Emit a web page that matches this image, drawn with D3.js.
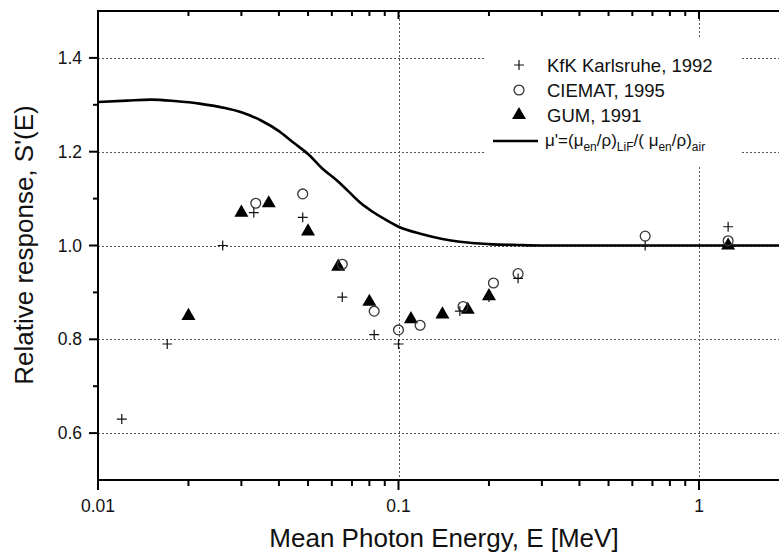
<!DOCTYPE html>
<html>
<head>
<meta charset="utf-8">
<script src="https://cdn.jsdelivr.net/npm/d3@7"></script>
<style>
  html, body { margin: 0; padding: 0; background: #fff; }
  svg { display: block; font-family: Arial, "Liberation Sans", sans-serif; }
</style>
</head>
<body>
<svg id="chart" width="779" height="556"></svg>
<script>
// KfK Karlsruhe, 1992 measurements: [energy MeV, relative response]
const kfkEnergy = [0.012, 0.017, 0.026, 0.033, 0.048, 0.065, 0.083, 0.1, 0.16, 0.20, 0.25, 0.662, 1.25];
const kfkResponse = [0.63, 0.79, 1.00, 1.07, 1.06, 0.89, 0.81, 0.79, 0.86, 0.89, 0.93, 1.00, 1.04];

// CIEMAT, 1995
const ciematEnergy = [0.0335, 0.048, 0.065, 0.083, 0.1, 0.118, 0.164, 0.207, 0.25, 0.662, 1.25];
const ciematResponse = [1.09, 1.11, 0.96, 0.86, 0.82, 0.83, 0.87, 0.92, 0.94, 1.02, 1.01];

// GUM, 1991
const gumEnergy = [0.020, 0.030, 0.037, 0.050, 0.063, 0.080, 0.11, 0.14, 0.17, 0.20, 1.25];
const gumResponse = [0.85, 1.07, 1.09, 1.03, 0.955, 0.88, 0.843, 0.853, 0.863, 0.892, 1.00];

// Ratio of mass energy-absorption coefficients, LiF / air
const muEnergy = [0.01, 0.0125, 0.015, 0.018, 0.022, 0.026, 0.030, 0.035, 0.040, 0.045, 0.050,
                  0.056, 0.062, 0.068, 0.075, 0.082, 0.09, 0.1, 0.12, 0.14, 0.16, 0.2, 0.25,
                  0.3, 0.5, 1.0, 2.0];
const muRatio = [1.306, 1.309, 1.311, 1.308, 1.302, 1.294, 1.284, 1.266, 1.244, 1.218, 1.195,
                 1.163, 1.140, 1.116, 1.090, 1.072, 1.056, 1.040, 1.024, 1.014, 1.008, 1.003, 1.001,
                 1.000, 1.000, 1.000, 1.000];

const xMajorTicks = [0.01, 0.1, 1];
const xTickLabels = ["0.01", "0.1", "1"];
const yMajorTicks = [0.6, 0.8, 1.0, 1.2, 1.4];
const yTickLabels = ["0.6", "0.8", "1.0", "1.2", "1.4"];
const yMinorTicks = [0.7, 0.9, 1.1, 1.3];

const legendLabels = ["KfK Karlsruhe, 1992", "CIEMAT, 1995", "GUM, 1991"];

const W = 779, H = 556;
const plotLeft = 98, plotTop = 11, plotBottom = 480;

const x = d3.scaleLog().domain([0.01, 1]).range([plotLeft, 699]);
const y = d3.scaleLinear().domain([0.5, 1.5]).range([plotBottom, plotTop]);

const svg = d3.select("#chart");

svg.append("defs").append("clipPath").attr("id", "plotClip")
  .append("rect").attr("x", plotLeft).attr("y", plotTop)
  .attr("width", W - plotLeft).attr("height", plotBottom - plotTop);

// minor ticks on the log axis: 2..9 in each decade
const xMinorTicks = [];
[0.01, 0.1, 1].forEach(d => { for (let k = 2; k <= 9; k++) xMinorTicks.push(d * k); });
const xMinorVisible = xMinorTicks.filter(v => x(v) <= W);

// gridlines
const grid = svg.append("g").attr("stroke", "#555").attr("stroke-width", 1)
  .attr("stroke-dasharray", "2,2");
grid.selectAll("line.h").data(yMajorTicks).join("line").attr("class", "h")
  .attr("x1", plotLeft).attr("x2", W)
  .attr("y1", d => Math.round(y(d)) + 0.5).attr("y2", d => Math.round(y(d)) + 0.5);
grid.selectAll("line.v").data([0.1, 1]).join("line").attr("class", "v")
  .attr("y1", plotTop).attr("y2", plotBottom)
  .attr("x1", d => Math.round(x(d)) + 0.5).attr("x2", d => Math.round(x(d)) + 0.5);

// legend backdrop hides gridlines behind it
svg.append("rect").attr("x", 486).attr("y", 38).attr("width", 256).attr("height", 128).attr("fill", "#fff");

// theoretical curve
const plot = svg.append("g").attr("clip-path", "url(#plotClip)");
const muData = muEnergy.map((e, i) => [e, muRatio[i]]);
plot.append("path")
  .datum(muData)
  .attr("fill", "none").attr("stroke", "#000").attr("stroke-width", 2.6)
  .attr("d", d3.line().x(d => x(d[0])).y(d => y(d[1])).curve(d3.curveMonotoneX));

// markers
const tri = d3.symbol().type(d3.symbolTriangle).size(85)();
const circ = d3.symbol().type(d3.symbolCircle).size(76)();
const plus = d3.symbol().type(d3.symbolPlus).size(34)();

plot.selectAll("path.gum").data(gumEnergy.map((e, i) => [e, gumResponse[i]])).join("path")
  .attr("class", "gum").attr("d", tri).attr("fill", "#000")
  .attr("transform", d => `translate(${x(d[0])},${y(d[1])})`);
plot.selectAll("path.ciemat").data(ciematEnergy.map((e, i) => [e, ciematResponse[i]])).join("path")
  .attr("class", "ciemat").attr("d", circ).attr("fill", "none").attr("stroke", "#333").attr("stroke-width", 1.3)
  .attr("transform", d => `translate(${x(d[0])},${y(d[1])})`);
plot.selectAll("path.kfk").data(kfkEnergy.map((e, i) => [e, kfkResponse[i]])).join("path")
  .attr("class", "kfk").attr("d", plus).attr("fill", "none").attr("stroke", "#111").attr("stroke-width", 1.2)
  .attr("transform", d => `translate(${x(d[0])},${y(d[1])})`);

// axes frame
const axes = svg.append("g").attr("stroke", "#000").attr("fill", "none");
axes.append("line").attr("x1", plotLeft).attr("x2", W).attr("y1", plotBottom).attr("y2", plotBottom).attr("stroke-width", 2);
axes.append("line").attr("x1", plotLeft).attr("x2", W).attr("y1", plotTop).attr("y2", plotTop).attr("stroke-width", 2);
axes.append("line").attr("x1", plotLeft).attr("x2", plotLeft).attr("y1", plotTop - 1).attr("y2", plotBottom + 1).attr("stroke-width", 2);

// bottom ticks (outward) and top ticks (inward)
axes.selectAll("line.bmaj").data(xMajorTicks).join("line").attr("class", "bmaj").attr("stroke-width", 2)
  .attr("x1", d => x(d)).attr("x2", d => x(d)).attr("y1", plotBottom).attr("y2", plotBottom + 10);
axes.selectAll("line.bmin").data(xMinorVisible).join("line").attr("class", "bmin").attr("stroke-width", 2)
  .attr("x1", d => x(d)).attr("x2", d => x(d)).attr("y1", plotBottom).attr("y2", plotBottom + 6);
axes.selectAll("line.tmaj").data(xMajorTicks).join("line").attr("class", "tmaj").attr("stroke-width", 2)
  .attr("x1", d => x(d)).attr("x2", d => x(d)).attr("y1", plotTop).attr("y2", plotTop + 8);
axes.selectAll("line.tmin").data(xMinorVisible).join("line").attr("class", "tmin").attr("stroke-width", 2)
  .attr("x1", d => x(d)).attr("x2", d => x(d)).attr("y1", plotTop).attr("y2", plotTop + 5);

// left ticks (outward)
axes.selectAll("line.lmaj").data(yMajorTicks).join("line").attr("class", "lmaj").attr("stroke-width", 2)
  .attr("x1", plotLeft - 9).attr("x2", plotLeft).attr("y1", d => y(d)).attr("y2", d => y(d));
axes.selectAll("line.lmin").data(yMinorTicks).join("line").attr("class", "lmin").attr("stroke-width", 2)
  .attr("x1", plotLeft - 5).attr("x2", plotLeft).attr("y1", d => y(d)).attr("y2", d => y(d));

// tick labels
svg.selectAll("text.xl").data(xMajorTicks).join("text")
  .attr("class", "xl").attr("x", d => x(d)).attr("y", 512)
  .attr("text-anchor", "middle").attr("font-size", 17.5).attr("fill", "#111")
  .text((d, i) => xTickLabels[i]);
svg.selectAll("text.yl").data(yMajorTicks).join("text")
  .attr("class", "yl").attr("x", 82).attr("y", d => y(d)).attr("dy", "0.35em")
  .attr("text-anchor", "end").attr("font-size", 17.5).attr("fill", "#111")
  .text((d, i) => yTickLabels[i]);

// axis titles
svg.append("text").attr("x", 444).attr("y", 547).attr("text-anchor", "middle")
  .attr("font-size", 26).attr("fill", "#111").text("Mean Photon Energy, E [MeV]");
svg.append("text").attr("transform", "translate(33,245) rotate(-90)").attr("text-anchor", "middle")
  .attr("font-size", 26).attr("fill", "#111").text("Relative response, S'(E)");

// legend
const lg = svg.append("g");
const rowY = [65, 90, 115];
const symbols = [plus, circ, tri];
lg.selectAll("path.sym").data(rowY).join("path")
  .attr("class", "sym")
  .attr("d", (d, i) => symbols[i])
  .attr("transform", d => `translate(519,${d})`)
  .attr("fill", (d, i) => i === 2 ? "#000" : "none")
  .attr("stroke", (d, i) => i === 0 ? "#111" : i === 1 ? "#333" : "none")
  .attr("stroke-width", (d, i) => i === 0 ? 1.2 : 1.3);
lg.selectAll("text.lab").data(rowY).join("text")
  .attr("class", "lab").attr("x", 547).attr("y", d => d + 6.7)
  .attr("font-size", 18.5).attr("fill", "#111")
  .text((d, i) => legendLabels[i]);
lg.append("line").attr("x1", 493).attr("x2", 538).attr("y1", 141).attr("y2", 141)
  .attr("stroke", "#000").attr("stroke-width", 2.6);

const formula = lg.append("text").attr("x", 545).attr("y", 146).attr("font-size", 17).attr("fill", "#111");
const parts = [
  ["μ'=(μ", false], ["en", true], ["/ρ)", false], ["LiF", true],
  ["/( μ", false], ["en", true], ["/ρ)", false], ["air", true]
];
parts.forEach(([t, sub], i) => {
  const ts = formula.append("tspan").text(t);
  if (sub) ts.attr("font-size", 12).attr("dy", 5);
  else ts.attr("dy", i > 0 ? -5 : 0);
});
</script>
</body>
</html>
